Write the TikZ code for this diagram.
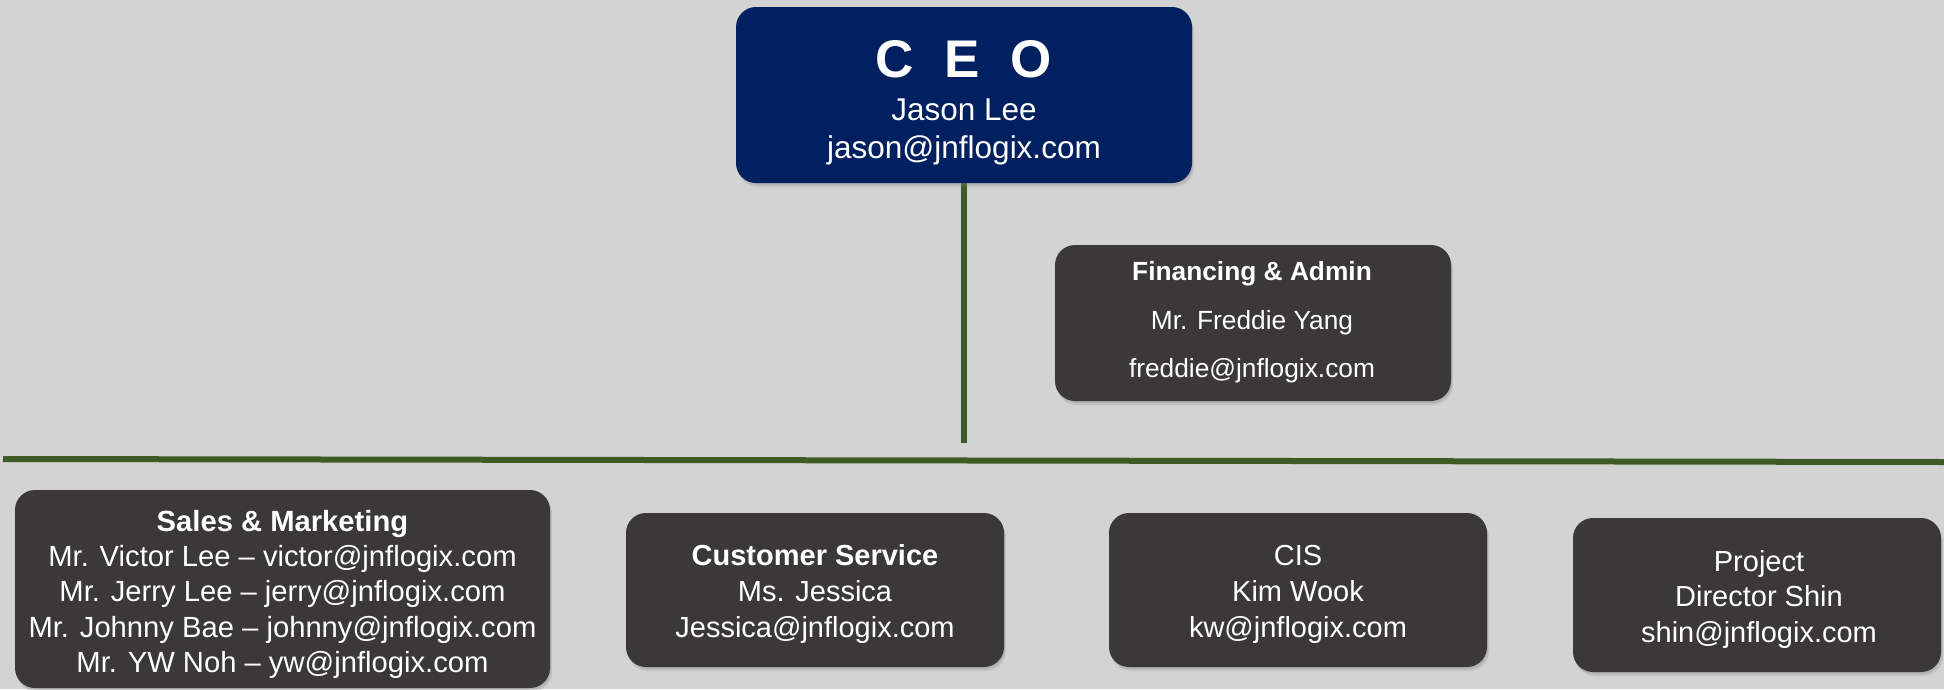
\documentclass[tikz,border=0pt]{standalone}
\usepackage{fontspec}
\setmainfont{Liberation Sans}
\usetikzlibrary{shadows}
\definecolor{bgcol}{HTML}{D3D3D3}
\definecolor{navy}{HTML}{00205F}
\definecolor{boxgray}{HTML}{3B3937}
\definecolor{linegreen}{HTML}{3E5B25}
\newcommand\setfs[1]{\fontsize{#1}{#1}\selectfont}
\begin{document}
\begin{tikzpicture}[x=1pt,y=-1pt,
  softshadow/.style={drop shadow={shadow xshift=1pt,shadow yshift=-2pt,opacity=0.25},
                     drop shadow={shadow xshift=2pt,shadow yshift=-4pt,opacity=0.2}},
  orgbox/.style={rectangle,rounded corners=20pt,fill=boxgray,draw=none,inner sep=0pt,softshadow},
  ceobox/.style={orgbox,fill=navy},
  txt/.style={text=white,anchor=base,inner sep=0pt},
  conn/.style={draw=linegreen,line width=6pt}]
\fill[bgcol] (0,0) rectangle (1944,689);
\useasboundingbox (0,0) rectangle (1944,689);

% connectors (drawn under the boxes)
\coordinate (vtop) at (964,183);
\coordinate (vend) at (964,443);
\coordinate (hl) at (3,459);
\coordinate (hr) at (1944,462);
\draw[conn] (vtop) -- (vend);
\draw[conn] (hl) -- (hr);

% boxes
\node[ceobox,minimum width=456pt,minimum height=176pt] (ceo) at (964,95) {};
\node[orgbox,minimum width=396pt,minimum height=156pt] (fin) at (1253,323) {};
\node[orgbox,minimum width=535pt,minimum height=198pt] (sales) at (282.5,589) {};
\node[orgbox,minimum width=378pt,minimum height=154pt] (cs) at (815,590) {};
\node[orgbox,minimum width=378pt,minimum height=154pt] (cis) at (1298,590) {};
\node[orgbox,minimum width=368pt,minimum height=154pt] (proj) at (1757,595) {};

% CEO text
\node[txt,font=\setfs{53}\bfseries] (ceo-t1) at (964,77) {C\hspace{0.58em}E\hspace{0.58em}O};
\node[txt,font=\setfs{31.5}] (ceo-t2) at (964,120) {Jason Lee};
\node[txt,font=\setfs{31.5}] (ceo-t3) at (964,158) {jason@jnflogix.com};

% Financing
\node[txt,font=\setfs{26.3}\bfseries] (fin-t1) at (1252,280) {Financing \& Admin};
\node[txt,font=\setfs{26.3}] (fin-t2) at (1252,329) {Mr. Freddie Yang};
\node[txt,font=\setfs{26.3}] (fin-t3) at (1252,377) {freddie@jnflogix.com};

% Sales
\node[txt,font=\setfs{29.2}\bfseries] (sales-t1) at (282.5,531) {Sales \& Marketing};
\node[txt,font=\setfs{29.2}] (sales-t2) at (282.5,566) {Mr. Victor Lee – victor@jnflogix.com};
\node[txt,font=\setfs{29.2}] (sales-t3) at (282.5,601) {Mr. Jerry Lee – jerry@jnflogix.com};
\node[txt,font=\setfs{29.2}] (sales-t4) at (282.5,637) {Mr. Johnny Bae – johnny@jnflogix.com};
\node[txt,font=\setfs{29.2}] (sales-t5) at (282.5,672) {Mr. YW Noh – yw@jnflogix.com};

% Customer Service
\node[txt,font=\setfs{29}\bfseries] (cs-t1) at (815,565) {Customer Service};
\node[txt,font=\setfs{29}] (cs-t2) at (815,601) {Ms. Jessica};
\node[txt,font=\setfs{29}] (cs-t3) at (815,637) {Jessica@jnflogix.com};

% CIS
\node[txt,font=\setfs{29}] (cis-t1) at (1298,565) {CIS};
\node[txt,font=\setfs{29}] (cis-t2) at (1298,601) {Kim Wook};
\node[txt,font=\setfs{29}] (cis-t3) at (1298,637) {kw@jnflogix.com};

% Project
\node[txt,font=\setfs{29}] (proj-t1) at (1759,571) {Project};
\node[txt,font=\setfs{29}] (proj-t2) at (1759,606) {Director Shin};
\node[txt,font=\setfs{29}] (proj-t3) at (1759,642) {shin@jnflogix.com};
\end{tikzpicture}
\end{document}
